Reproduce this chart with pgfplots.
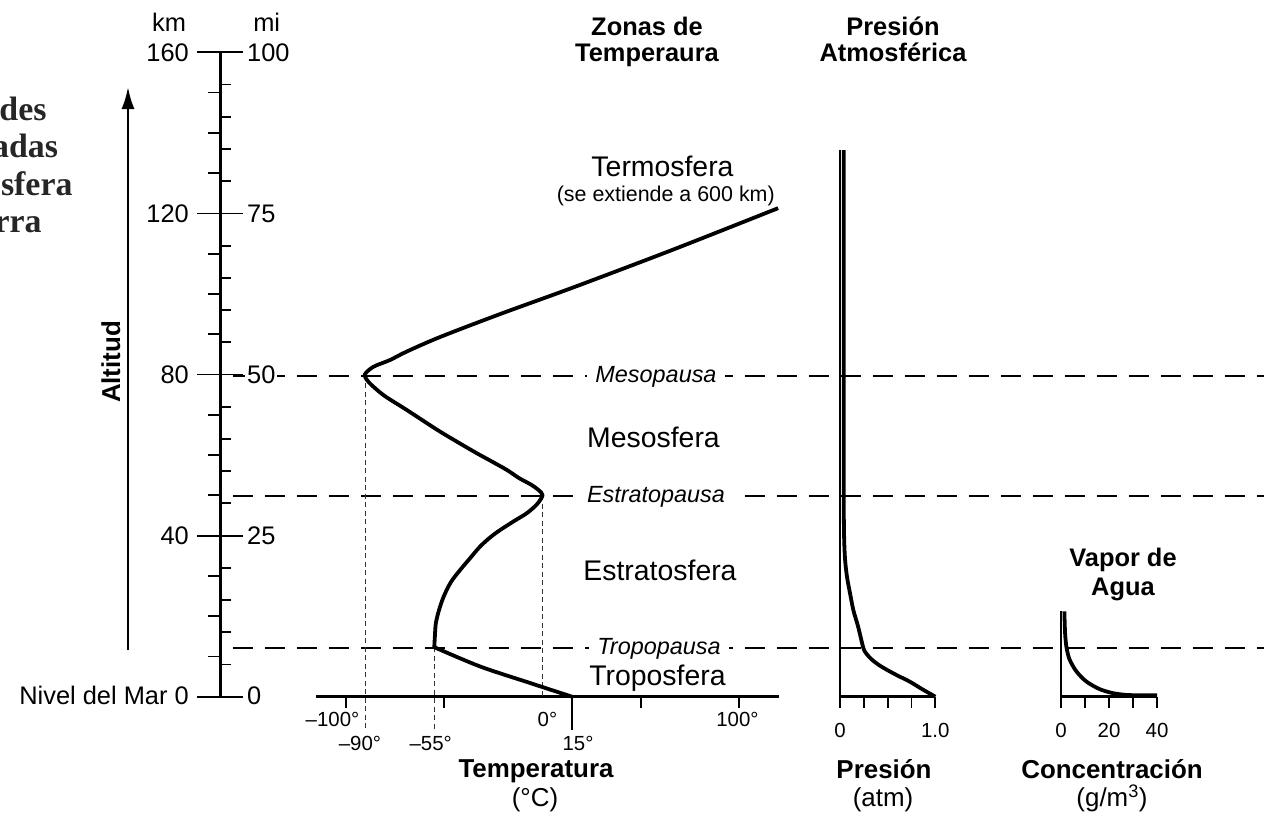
\documentclass[border=0pt]{standalone}
\usepackage{fontspec}
\setmainfont{Liberation Sans}
\newfontfamily\titlefont{Liberation Serif}
\usepackage{pgfplots}
\pgfplotsset{compat=1.18}
\usetikzlibrary{arrows.meta}
\newcommand{\fs}[1]{\fontsize{#1}{#1}\selectfont}
\pgfplotsset{
  every non boxed x axis/.append style={x axis line style={-}},
  every non boxed y axis/.append style={y axis line style={-}},
  base/.style={scale only axis, anchor=south west, clip=false,
    axis line style={-},
    every tick/.style={black, line width=1.8bp},
    ticklabel style={font=\fs{20.5}},
    xticklabel style={yshift=-12.5bp},
    no markers},
  curve/.style={black, line width=3.8bp, smooth, line join=round}
}
\begin{document}
\begin{tikzpicture}
\path[use as bounding box] (0bp,0bp) rectangle (1264bp,-814bp);
\clip (0bp,0bp) rectangle (1264bp,-814bp);

\begin{scope}[x=1bp,y=1bp]
% reference dashed lines
\begin{scope}[line width=1.4bp, dash pattern=on 20bp off 12bp]
\draw (233,-376) -- (1264,-376);
\draw (233,-496) -- (1264,-496);
\draw (233,-648) -- (1264,-648);
\end{scope}
\begin{scope}[every node/.style={fill=white, inner xsep=8bp, inner ysep=0pt, anchor=base, font=\fs{23.5}\itshape}]
\node at (656,-382.5) {Mesopausa};
\node at (656,-502.5) {Estratopausa};
\node at (659,-654) {Tropopausa};
\end{scope}

% left title (cut off at the left edge, as in the reference)
\begin{scope}[every node/.style={anchor=base east, inner sep=0pt, font=\titlefont\bfseries\fs{34}, text=black!85}]
\node at (46.7,-120) {Propiedades};
\node at (58.3,-157) {Seleccionadas};
\node at (72.7,-195) {de la Atmósfera};
\node at (41.7,-232) {de la Tierra};
\end{scope}

% altitude arrow and label
\draw[line width=2.5bp, -{Latex[length=22bp,width=13bp]}] (128,-650) -- (128,-87);
\node[rotate=90, anchor=base, font=\bfseries\fs{26}] at (120,-362) {Altitud};
\end{scope}

% altitude scale (km)
\begin{axis}[base, at={(220bp,-696.7bp)}, width=1bp, height=644.4bp,
  xmin=0, xmax=1, ymin=0, ymax=160,
  axis x line=none, axis y line=left, axis line style={line width=3bp},
  xtick=\empty, ytick={0,40,80,120,160}, yticklabels={},
  minor ytick={10,20,30,50,60,70,90,100,110,130,140,150},
  tick align=outside, major tick length=23bp, minor tick length=12bp]
\end{axis}
% altitude scale (mi)
\begin{axis}[base, at={(220bp,-696.7bp)}, width=1bp, height=644.4bp,
  xmin=0, xmax=1, ymin=0, ymax=100,
  axis x line=none, axis y line=left, axis line style={line width=3bp},
  xtick=\empty, ytick={0,25,50,75,100}, yticklabels={},
  minor ytick={5,10,15,20,30,35,40,45,55,60,65,70,80,85,90,95},
  tick align=inside, major tick length=23bp, minor tick length=11bp]
\end{axis}

% temperature profile
\begin{axis}[base, at={(316.2bp,-696.7bp)}, width=462.5bp, height=644.4bp,
  xmin=-115, xmax=120, ymin=0, ymax=160,
  axis x line=bottom, axis y line=none, axis line style={line width=2.7bp},
  xtick={-100,-50,50,100}, xticklabels={}, ytick=\empty,
  tick align=outside, major tick length=11bp]
\draw[line width=1.5bp, black!80, dash pattern=on 5bp off 3.5bp] (axis cs:-90,80) -- (axis cs:-90,-7.7);
\draw[line width=1.5bp, black!80, dash pattern=on 5bp off 3.5bp] (axis cs:-55,12.3) -- (axis cs:-55,-8.2);
\draw[line width=1.5bp, black!80, dash pattern=on 5bp off 3.5bp] (axis cs:0,50) -- (axis cs:0,0);
\draw[line width=1.8bp] (axis cs:15,0) -- (axis cs:15,-8.2);
\addplot[curve] coordinates {(15,0) (-6.3,3.4) (-31.7,7.5) (-55,12.3)};
\addplot[curve] coordinates {
(-55,12.3) (-54.7,15) (-54.2,18.3) (-52.6,21.5) (-50.2,24.9) (-46.5,28.5)
(-41.8,31.5) (-36.8,34.4) (-31.7,37.3) (-26.5,39.6) (-21.5,41.4) (-14.5,43.6)
(-7.9,45.6) (-2.8,47.8) (0,50) (-2,51.3) (-6,52.7) (-12,54.3) (-18.1,56.3)
(-26.5,58.6) (-35,60.9) (-52,65.8) (-69,71.2) (-80,74.6) (-86,77) (-89,78.5)
(-90.3,80) (-86,81.9) (-77.5,83.6) (-69,85.7) (-52.1,89.3)
(-21.6,95) (15.5,101.6) (66.3,111) (119.7,121.3)};
\end{axis}

% pressure
\begin{axis}[base, at={(840bp,-696.7bp)}, width=95.3bp, height=546.5bp,
  xmin=0, xmax=1, ymin=0, ymax=135.7,
  axis lines=left, axis line style={line width=2.5bp},
  xtick={0,0.25,0.5,0.75,1}, xticklabels={0,,,,1.0}, ytick=\empty,
  tick align=outside, major tick length=11bp]
\addplot[curve] coordinates {
(1.0,0) (0.86,1.9) (0.735,3.7) (0.6,5.3) (0.49,6.7) (0.4,8) (0.33,9.3)
(0.28,10.6) (0.245,12.1) (0.19,17.4) (0.14,21.5) (0.105,25.7) (0.075,29.5)
(0.055,33.5) (0.045,38) (0.04,45) (0.04,60) (0.04,135.7)};
\end{axis}

% water vapour
\begin{axis}[base, at={(1061bp,-696.7bp)}, width=96bp, height=85.4bp,
  xmin=0, xmax=40, ymin=0, ymax=21.2,
  axis lines=left, axis line style={line width=2.5bp},
  xtick={0,10,20,30,40}, xticklabels={0,,20,,40}, ytick=\empty,
  tick align=outside, major tick length=11bp]
\addplot[curve] coordinates {
(1.4,21.2) (1.7,15.8) (2.3,12.2) (3.6,9.2) (6.4,6.3) (10.5,3.8) (16,1.9)
(21.5,0.9) (27,0.45) (33,0.35) (40,0.35)};
\end{axis}

\begin{scope}[x=1bp,y=1bp]
\begin{scope}[every node/.style={font=\fs{25.5}, inner sep=0pt}]
\node[anchor=base] at (169,-31.7) {km};
\node[anchor=base] at (266.7,-31.7) {mi};
\node[anchor=base east] at (189,-61) {160};
\node[anchor=base east] at (189,-222) {120};
\node[anchor=base east] at (189,-383.1) {80};
\node[anchor=base east] at (189,-544.2) {40};
\node[anchor=base east] at (189,-704) {Nivel del Mar 0};
\node[anchor=base west] at (247,-61) {100};
\node[anchor=base west] at (247,-222) {75};
\node[anchor=base west, fill=white, inner xsep=2bp] at (245,-383.1) {50};
\node[anchor=base west] at (247,-544.2) {25};
\node[anchor=base west] at (247,-704) {0};
\end{scope}
\begin{scope}[every node/.style={font=\fs{20.5}, inner sep=0pt, anchor=base}]
\node at (332.5,-726) {–100°};
\node at (547.5,-726) {0°};
\node at (737.5,-726) {100°};
\node at (360,-750.7) {–90°};
\node at (430.7,-750.7) {–55°};
\node at (578,-750.7) {15°};
\end{scope}
% headings and zone names
\begin{scope}[every node/.style={anchor=base, inner sep=0pt}]
\node[font=\bfseries\fs{25.5}] at (647,-35) {Zonas de};
\node[font=\bfseries\fs{25.5}] at (647,-61.7) {Temperaura};
\node[font=\bfseries\fs{25.5}] at (893,-35) {Presión};
\node[font=\bfseries\fs{25.5}] at (893,-61.7) {Atmosférica};
\node[font=\bfseries\fs{25.5}] at (1123,-566) {Vapor de};
\node[font=\bfseries\fs{25.5}] at (1123,-595) {Agua};
\node[font=\fs{28.5}] at (662.5,-176.7) {Termosfera};
\node[font=\fs{21.5}] at (665.8,-201.7) {(se extiende a 600 km)};
\node[font=\fs{28.5}] at (653.5,-447) {Mesosfera};
\node[font=\fs{28.5}] at (660,-580) {Estratosfera};
\node[font=\fs{28.5}] at (657.5,-685) {Troposfera};
\node[font=\bfseries\fs{26}] at (536,-777.7) {Temperatura};
\node[font=\fs{26}] at (535,-806) {(°C)};
\node[font=\bfseries\fs{26}] at (884,-778.3) {Presión};
\node[font=\fs{26}] at (883,-806) {(atm)};
\node[font=\bfseries\fs{26}] at (1112,-778.3) {Concentración};
\node[font=\fs{26}] at (1112,-806) {(g/m\textsuperscript{3})};
\end{scope}
\end{scope}
\end{tikzpicture}
\end{document}
